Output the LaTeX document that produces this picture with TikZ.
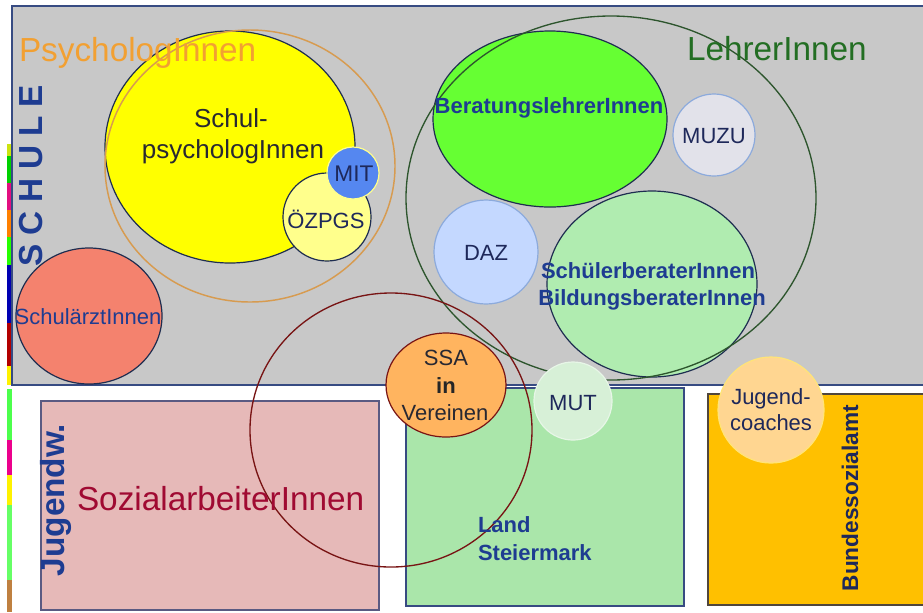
\documentclass[tikz,border=0pt]{standalone}
\usepackage{fontspec}
\setmainfont{Liberation Sans}
\definecolor{grayfill}{RGB}{200,200,200}
\definecolor{frameblue}{RGB}{55,75,130}
\definecolor{navy}{RGB}{30,60,145}
\definecolor{darknavy}{RGB}{30,40,90}
\definecolor{outl}{RGB}{30,45,80}
\definecolor{psyorange}{RGB}{242,160,50}
\definecolor{psyring}{RGB}{215,155,80}
\definecolor{lehrgreen}{RGB}{35,110,35}
\definecolor{ringgreen}{RGB}{45,85,45}
\definecolor{yellowfill}{RGB}{255,255,0}
\definecolor{ozfill}{RGB}{255,255,140}
\definecolor{mitfill}{RGB}{85,135,240}
\definecolor{arztfill}{RGB}{244,130,110}
\definecolor{beratfill}{RGB}{102,255,51}
\definecolor{muzufill}{RGB}{226,226,234}
\definecolor{lightblueline}{RGB}{140,170,220}
\definecolor{dazfill}{RGB}{196,216,255}
\definecolor{sbfill}{RGB}{176,236,176}
\definecolor{redring}{RGB}{120,20,20}
\definecolor{ssafill}{RGB}{255,180,95}
\definecolor{mutfill}{RGB}{215,240,215}
\definecolor{jcfill}{RGB}{255,214,145}
\definecolor{jcline}{RGB}{255,228,120}
\definecolor{pinkfill}{RGB}{230,185,184}
\definecolor{pinkline}{RGB}{90,90,130}
\definecolor{landfill}{RGB}{170,230,170}
\definecolor{bsafill}{RGB}{255,192,0}
\definecolor{bsaline}{RGB}{80,70,60}
\definecolor{sozred}{RGB}{160,10,50}
\definecolor{txtdark}{RGB}{40,40,50}
\tikzset{
  lbl/.style={inner sep=0pt, outer sep=0pt},
  big/.style={lbl, font=\fontsize{25}{30}\selectfont},
  mid/.style={lbl, font=\fontsize{16.5}{20}\selectfont},
  midb/.style={lbl, font=\bfseries\fontsize{16.5}{20}\selectfont},
  blob/.style={line width=0.9pt}
}
\begin{document}
\begin{tikzpicture}[x=0.75pt,y=-0.75pt]
\useasboundingbox (0,0) rectangle (923,612);
\clip (0,0) rectangle (923,612);
\fill[white] (0,0) rectangle (923,612);
% left colour strip
\fill[yellow!80!green] (7,144) rectangle (12,156);
\fill[green!70!black!60!green] (7,156) rectangle (12,183);
\fill[magenta!80!purple] (7,183) rectangle (12,210);
\fill[orange] (7,210) rectangle (12,237);
\fill[green!80!lime] (7,237) rectangle (12,265);
\fill[blue!70!black] (7,265) rectangle (12,323);
\fill[red!70!black] (7,323) rectangle (12,366);
\fill[yellow] (7,366) rectangle (12,385);
\fill[green!70] (7,389) rectangle (12,440);
\fill[magenta] (7,440) rectangle (12,475);
\fill[yellow] (7,475) rectangle (12,505);
\fill[green!60] (7,505) rectangle (12,580);
\fill[orange!50!gray] (7,580) rectangle (12,612);
% Schule area
\draw[fill=grayfill, draw=frameblue, line width=0.8pt] (12,6) rectangle (940,385);
% lower boxes
\draw[fill=pinkfill, draw=pinkline, line width=0.9pt] (41,401) rectangle (379,610);
\draw[fill=landfill, draw=frameblue, line width=0.9pt] (406,388) rectangle (684,606);
\draw[fill=bsafill, draw=bsaline, line width=0.9pt] (708,394) rectangle (940,605);
% psychologists
\draw[blob, fill=yellowfill, draw=outl] (230,147) ellipse [x radius=125, y radius=116];
\draw[blob, fill=ozfill, draw=outl] (327,217) circle [radius=44];
\draw[blob, fill=mitfill, draw=ozfill] (353,173) circle [radius=26];
\draw[psyring, line width=1.1pt] (250,166) ellipse [x radius=145, y radius=136];
% school doctors
\draw[blob, fill=arztfill, draw=outl] (89,316) ellipse [x radius=73, y radius=68];
% teachers
\draw[blob, fill=beratfill, draw=outl] (550,119) ellipse [x radius=117, y radius=88];
\draw[blob, fill=muzufill, draw=lightblueline] (714,135) circle [radius=41];
\draw[blob, fill=dazfill, draw=lightblueline] (486,252) circle [radius=52];
\draw[blob, fill=sbfill, draw=outl] (652,284) ellipse [x radius=105, y radius=93];
\draw[ringgreen, line width=1pt] (611,198) ellipse [x radius=205, y radius=182];
% social work ring
\draw[redring, line width=1pt] (391,430) ellipse [x radius=141, y radius=137];
\draw[blob, fill=ssafill, draw=redring] (446,385) ellipse [x radius=60, y radius=52];
\draw[blob, fill=mutfill, draw=mutfill!60!white] (573,401) circle [radius=39];
\draw[blob, fill=jcfill, draw=jcline] (771,410) circle [radius=53];
% texts
\node[lbl, rotate=90, text=navy, font=\bfseries\fontsize{25}{30}\selectfont] (schule) at (31,176) {S\hspace{6.6pt}C\hspace{6.6pt}H\hspace{6.6pt}U\hspace{6.6pt}L\hspace{6.6pt}E};
\node[big, text=psyorange, anchor=base west] (psy) at (19,61) {PsychologInnen};
\node[big, text=lehrgreen, anchor=base west] (lehr) at (687,60) {LehrerInnen};
\node[lbl, text=txtdark, font=\fontsize{19.5}{23}\selectfont, anchor=base] (sp1) at (231,127) {Schul-};
\node[lbl, text=txtdark, font=\fontsize{19.5}{23}\selectfont, anchor=base] (sp2) at (233,158) {psychologInnen};
\node[lbl, text=darknavy, font=\fontsize{17}{20}\selectfont] (mit) at (354,174) {MIT};
\node[mid, text=darknavy] (oz) at (326,219) {ÖZPGS};
\node[mid, text=navy] (arzt) at (88,317) {SchulärztInnen};
\node[midb, text=navy, anchor=base] (berat) at (549,113) {BeratungslehrerInnen};
\node[mid, text=darknavy] (muzu) at (714,136) {MUZU};
\node[mid, text=darknavy] (daz) at (486,253) {DAZ};
\node[midb, text=navy, anchor=base] (sb1) at (648,278) {SchülerberaterInnen};
\node[midb, text=navy, anchor=base] (sb2) at (652,305) {BildungsberaterInnen};
\node[mid, text=txtdark, anchor=base] (ssa1) at (446,365) {SSA};
\node[midb, text=black!85, anchor=base] (ssa2) at (446,393) {in};
\node[mid, text=txtdark, anchor=base] (ssa3) at (445,420) {Vereinen};
\node[mid, text=darknavy, anchor=base] (mut) at (573,410) {MUT};
\node[mid, text=darknavy, anchor=base] (jc1) at (771,404) {Jugend-};
\node[mid, text=darknavy, anchor=base] (jc2) at (771,430) {coaches};
\node[lbl, rotate=90, text=navy, font=\bfseries\fontsize{25}{30}\selectfont] (jugw) at (56,500) {Jugendw.};
\node[big, text=sozred, anchor=base west] (soz) at (77,510) {SozialarbeiterInnen};
\node[midb, text=navy, anchor=base west] (land1) at (478,532) {Land};
\node[midb, text=navy, anchor=base west] (land2) at (478,560) {Steiermark};
\node[lbl, rotate=90, text=darknavy, font=\bfseries\fontsize{17}{20}\selectfont] (bsa) at (850,498) {Bundessozialamt};
\end{tikzpicture}
\end{document}
